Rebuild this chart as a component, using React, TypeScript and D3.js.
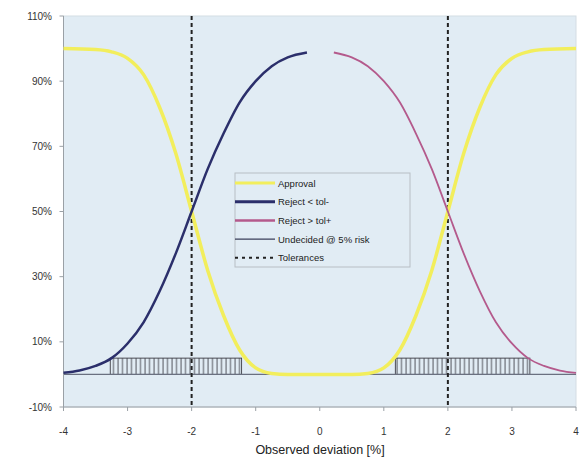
import React, { useEffect, useRef } from "react";
import * as d3 from "d3";

// x ticks and y ticks (percent)
const xTicks = [-4, -3, -2, -1, 0, 1, 2, 3, 4];
const yTicks = [-10, 10, 30, 50, 70, 90, 110];

// Approval probability vs observed deviation
const approvalX = [-4, -3.5, -3.25, -3.0, -2.75, -2.5, -2.25, -2.0, -1.75, -1.5, -1.25, -1.0, -0.75, -0.5, 0, 0.5, 0.75, 1.0, 1.25, 1.5, 1.75, 2.0, 2.25, 2.5, 2.75, 3.0, 3.25, 3.5, 4];
const approvalY = [100, 99.7, 99, 97, 92, 82, 68, 50, 32, 18, 7.5, 2, 0.3, 0, 0, 0, 0.3, 2, 7.5, 18, 32, 50, 68, 82, 92, 97, 99, 99.7, 100];

// Reject < tol-
const rejectLowX = [-4, -3.75, -3.5, -3.25, -3.0, -2.75, -2.5, -2.25, -2.0, -1.75, -1.5, -1.25, -1.0, -0.75, -0.5, -0.2];
const rejectLowY = [0.5, 1.2, 2.6, 5, 9.5, 16, 25.5, 37, 50, 63, 74, 83.5, 90, 94.6, 97.3, 98.8];

// Reject > tol+
const rejectHighX = [0.22, 0.5, 0.75, 1.0, 1.25, 1.5, 1.75, 2.0, 2.25, 2.5, 2.75, 3.0, 3.25, 3.5, 3.75, 4];
const rejectHighY = [98.8, 97.3, 94.6, 90, 83.5, 74, 63, 50, 37, 25.5, 16, 9.5, 5, 2.6, 1.2, 0.5];

// Undecided zones @ 5% risk
const undecidedStart = [-3.27, 1.18];
const undecidedEnd = [-1.22, 3.28];
const undecidedLevel = 5;

// Tolerances
const tolerances = [-2, 2];

const legendItems = [
  { label: "Approval", color: "#f2ee5c", width: 3, dash: "" },
  { label: "Reject < tol-", color: "#2b2f6b", width: 3, dash: "" },
  { label: "Reject > tol+", color: "#b45a8c", width: 2.5, dash: "" },
  { label: "Undecided @ 5% risk", color: "#3a3f5a", width: 1.2, dash: "" },
  { label: "Tolerances", color: "#222", width: 2, dash: "3,4" },
];

export default function App() {
  const ref = useRef<SVGSVGElement>(null);

  useEffect(() => {
    const svg = d3.select(ref.current);
    svg.selectAll("*").remove();

    const x = d3.scaleLinear().domain([-4, 4]).range([63.5, 576]);
    const y = d3.scaleLinear().domain([-10, 110]).range([407, 16]);
    const font = "Liberation Sans, Arial, sans-serif";

    // hatch pattern
    svg
      .append("defs")
      .append("pattern")
      .attr("id", "hatch")
      .attr("patternUnits", "userSpaceOnUse")
      .attr("width", 4.5)
      .attr("height", 10)
      .append("line")
      .attr("x1", 1)
      .attr("x2", 1)
      .attr("y1", 0)
      .attr("y2", 10)
      .attr("stroke", "#3c3c44")
      .attr("stroke-width", 0.9);

    // plot background
    svg
      .append("rect")
      .attr("x", x(-4))
      .attr("y", y(110))
      .attr("width", x(4) - x(-4))
      .attr("height", y(-10) - y(110))
      .attr("fill", "#e1ecf4")
      .attr("stroke", "#d4dde4")
      .attr("stroke-width", 1);

    // undecided hatched zones
    undecidedStart.forEach((s, i) => {
      svg
        .append("rect")
        .attr("x", x(s))
        .attr("y", y(undecidedLevel))
        .attr("width", x(undecidedEnd[i]) - x(s))
        .attr("height", y(0) - y(undecidedLevel))
        .attr("fill", "url(#hatch)")
        .attr("stroke", "#3c3c44")
        .attr("stroke-width", 0.9);
    });

    // undecided baseline
    svg
      .append("line")
      .attr("x1", x(-4))
      .attr("x2", x(4))
      .attr("y1", y(0))
      .attr("y2", y(0))
      .attr("stroke", "#6a7080")
      .attr("stroke-width", 1.2);

    // axes lines
    svg
      .append("line")
      .attr("x1", x(-4))
      .attr("x2", x(-4))
      .attr("y1", y(110))
      .attr("y2", y(-10))
      .attr("stroke", "#9aa0a6");
    svg
      .append("line")
      .attr("x1", x(-4))
      .attr("x2", x(4))
      .attr("y1", y(-10))
      .attr("y2", y(-10))
      .attr("stroke", "#9aa0a6");

    // y ticks
    yTicks.forEach((t) => {
      svg
        .append("line")
        .attr("x1", x(-4) - 4)
        .attr("x2", x(-4))
        .attr("y1", y(t))
        .attr("y2", y(t))
        .attr("stroke", "#9aa0a6");
      svg
        .append("text")
        .attr("x", 52)
        .attr("y", y(t) + 3.5)
        .attr("text-anchor", "end")
        .attr("font-family", font)
        .attr("font-size", 10)
        .attr("fill", "#333")
        .text(`${t}%`);
    });

    // x ticks
    xTicks.forEach((t) => {
      svg
        .append("line")
        .attr("x1", x(t))
        .attr("x2", x(t))
        .attr("y1", y(-10))
        .attr("y2", y(-10) + 4)
        .attr("stroke", "#9aa0a6");
      svg
        .append("text")
        .attr("x", x(t))
        .attr("y", 435)
        .attr("text-anchor", "middle")
        .attr("font-family", font)
        .attr("font-size", 10)
        .attr("fill", "#333")
        .text(t);
    });

    // x axis title
    svg
      .append("text")
      .attr("x", 320)
      .attr("y", 454)
      .attr("text-anchor", "middle")
      .attr("font-family", font)
      .attr("font-size", 12.5)
      .attr("fill", "#222")
      .text("Observed deviation [%]");

    // tolerance lines
    tolerances.forEach((t) => {
      svg
        .append("line")
        .attr("x1", x(t))
        .attr("x2", x(t))
        .attr("y1", y(110))
        .attr("y2", y(-10))
        .attr("stroke", "#222")
        .attr("stroke-width", 2)
        .attr("stroke-dasharray", "4,3");
    });

    const line = d3
      .line<[number, number]>()
      .x((d) => x(d[0]))
      .y((d) => y(d[1]))
      .curve(d3.curveMonotoneX);

    const series = [
      { xs: approvalX, ys: approvalY, color: "#f2ee5c", width: 3.5 },
      { xs: rejectLowX, ys: rejectLowY, color: "#2b2f6b", width: 2.5 },
      { xs: rejectHighX, ys: rejectHighY, color: "#b45a8c", width: 1.8 },
    ];
    series.forEach((s) => {
      const pts = s.xs.map((v, i) => [v, s.ys[i]] as [number, number]);
      svg
        .append("path")
        .attr("d", line(pts))
        .attr("fill", "none")
        .attr("stroke", s.color)
        .attr("stroke-width", s.width)
        .attr("stroke-linejoin", "round");
    });

    // legend
    const lg = svg.append("g").attr("transform", "translate(235,173)");
    lg.append("rect")
      .attr("width", 175)
      .attr("height", 94)
      .attr("fill", "#e1ecf4")
      .attr("stroke", "#b8bec4")
      .attr("stroke-width", 1);
    legendItems.forEach((d, i) => {
      const yy = 10 + i * 18.7;
      lg.append("line")
        .attr("x1", 0)
        .attr("x2", 40)
        .attr("y1", yy)
        .attr("y2", yy)
        .attr("stroke", d.color)
        .attr("stroke-width", d.width)
        .attr("stroke-dasharray", d.dash || null);
      lg.append("text")
        .attr("x", 43)
        .attr("y", yy + 3.5)
        .attr("font-family", font)
        .attr("font-size", 9.5)
        .attr("fill", "#222")
        .text(d.label);
    });
  }, []);

  return (
    <svg
      ref={ref}
      width={586}
      height={459}
      style={{ position: "absolute", left: 0, top: 0, background: "#fff" }}
    />
  );
}
